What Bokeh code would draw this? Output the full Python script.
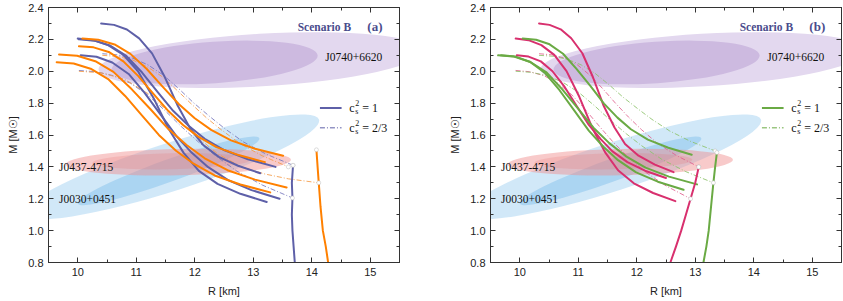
from bokeh.plotting import figure
from bokeh.layouts import row
from bokeh.models import Range1d, LinearAxis, FixedTicker, PrintfTickFormatter
from bokeh.core.properties import value
from bokeh.embed import file_html
from bokeh.resources import INLINE

# ---------------- data: panel (a) ----------------
PA1_R = [10.40, 10.62, 10.84, 11.05, 11.27, 11.49, 11.71, 11.92, 12.14, 12.41, 12.74, 13.12]
PA1_M = [2.300, 2.291, 2.262, 2.206, 2.112, 1.962, 1.783, 1.642, 1.539, 1.463, 1.407, 1.360]
PA2_R = [10.00, 10.26, 10.52, 10.78, 11.03, 11.29, 11.55, 11.81, 12.07, 12.39, 12.78, 13.23]
PA2_M = [2.205, 2.195, 2.164, 2.103, 2.000, 1.836, 1.641, 1.488, 1.375, 1.293, 1.231, 1.180]
PA3_R = [10.02, 10.29, 10.56, 10.83, 11.10, 11.36, 11.63, 11.90, 12.17, 12.51, 12.91, 13.38]
PA3_M = [2.200, 2.192, 2.160, 2.096, 1.992, 1.872, 1.752, 1.656, 1.576, 1.504, 1.448, 1.400]
PA4_R = [10.05, 10.32, 10.59, 10.87, 11.14, 11.41, 11.68, 11.95, 12.23, 12.57, 12.97, 13.45]
PA4_M = [2.100, 2.091, 2.055, 1.983, 1.866, 1.731, 1.596, 1.488, 1.398, 1.317, 1.254, 1.200]
OA1_R = [10.08, 10.35, 10.63, 10.90, 11.18, 11.45, 11.73, 12.00, 12.28, 12.62, 13.03, 13.51]
OA1_M = [2.205, 2.198, 2.168, 2.109, 2.014, 1.904, 1.793, 1.705, 1.632, 1.566, 1.514, 1.470]
OA2_R = [10.02, 10.27, 10.53, 10.78, 11.04, 11.29, 11.55, 11.80, 12.06, 12.37, 12.75, 13.20]
OA2_M = [2.157, 2.150, 2.121, 2.062, 1.968, 1.859, 1.750, 1.663, 1.590, 1.524, 1.474, 1.430]
OA3_R = [9.68, 9.99, 10.30, 10.61, 10.92, 11.24, 11.55, 11.86, 12.17, 12.56, 13.03, 13.57]
OA3_M = [2.105, 2.097, 2.063, 1.996, 1.888, 1.763, 1.637, 1.537, 1.454, 1.379, 1.320, 1.270]
OA4_R = [9.64, 9.93, 10.22, 10.52, 10.81, 11.10, 11.39, 11.68, 11.98, 12.34, 12.78, 13.29]
OA4_M = [2.057, 2.049, 2.016, 1.951, 1.845, 1.722, 1.599, 1.501, 1.420, 1.346, 1.289, 1.240]
PDA1_R = [10.42, 10.68, 10.94, 11.20, 11.46, 11.72, 11.98, 12.25, 12.51, 12.83, 13.22, 13.68]
PDA1_M = [2.110, 2.103, 2.082, 2.040, 1.977, 1.893, 1.802, 1.718, 1.641, 1.557, 1.480, 1.410]
PDA2_R = [10.02, 10.31, 10.60, 10.90, 11.19, 11.48, 11.77, 12.06, 12.36, 12.72, 13.16, 13.67]
PDA2_M = [2.005, 1.997, 1.973, 1.925, 1.853, 1.757, 1.653, 1.557, 1.469, 1.373, 1.285, 1.205]
ODA1_R = [10.02, 10.40, 10.80, 11.20, 11.60, 12.00, 12.40, 12.80, 13.20, 13.60, 14.12]
ODA1_M = [2.000, 1.990, 1.950, 1.860, 1.730, 1.600, 1.480, 1.400, 1.355, 1.325, 1.300]
ODA2_R = [10.42, 10.67, 10.93, 11.18, 11.44, 11.69, 11.95, 12.20, 12.46, 12.77, 13.15, 13.60]
ODA2_M = [2.100, 2.093, 2.072, 2.030, 1.967, 1.883, 1.792, 1.708, 1.631, 1.547, 1.470, 1.400]
HPA_R = [13.68, 13.66, 13.67, 13.66, 13.67, 13.69, 13.71]
HPA_M = [1.41, 1.30, 1.205, 1.10, 1.00, 0.90, 0.80]
HOA_R = [14.08, 14.10, 14.12, 14.15, 14.19, 14.24, 14.28]
HOA_M = [1.507, 1.40, 1.30, 1.15, 1.00, 0.90, 0.80]

# ---------------- data: panel (b) ----------------
MB1_R = [10.33, 10.51, 10.70, 10.88, 11.07, 11.25, 11.43, 11.62, 11.80, 12.03, 12.31, 12.63]
MB1_M = [2.300, 2.291, 2.263, 2.207, 2.113, 1.964, 1.787, 1.647, 1.544, 1.470, 1.414, 1.367]
MB2_R = [9.93, 10.15, 10.37, 10.59, 10.80, 11.02, 11.24, 11.46, 11.68, 11.95, 12.28, 12.66]
MB2_M = [2.205, 2.195, 2.164, 2.103, 2.001, 1.838, 1.644, 1.491, 1.379, 1.297, 1.236, 1.185]
MB3_R = [9.95, 10.15, 10.36, 10.56, 10.77, 10.97, 11.17, 11.38, 11.58, 11.84, 12.14, 12.50]
MB3_M = [2.100, 2.092, 2.062, 2.000, 1.900, 1.784, 1.669, 1.576, 1.499, 1.430, 1.376, 1.330]
GB1_R = [10.05, 10.28, 10.51, 10.74, 10.97, 11.21, 11.44, 11.67, 11.90, 12.19, 12.54, 12.94]
GB1_M = [2.205, 2.198, 2.169, 2.110, 2.015, 1.906, 1.797, 1.709, 1.636, 1.571, 1.520, 1.476]
GB2_R = [9.63, 9.90, 10.17, 10.45, 10.72, 10.99, 11.26, 11.53, 11.81, 12.15, 12.55, 13.03]
GB2_M = [2.100, 2.092, 2.060, 1.995, 1.889, 1.768, 1.646, 1.549, 1.468, 1.395, 1.339, 1.290]
GB3_R = [9.68, 9.93, 10.18, 10.43, 10.68, 10.93, 11.18, 11.43, 11.68, 11.99, 12.36, 12.80]
GB3_M = [2.100, 2.092, 2.058, 1.990, 1.881, 1.754, 1.627, 1.526, 1.442, 1.366, 1.307, 1.256]
MDB1_R = [10.33, 10.55, 10.77, 10.99, 11.20, 11.42, 11.64, 11.86, 12.08, 12.35, 12.68, 13.06]
MDB1_M = [2.110, 2.103, 2.082, 2.039, 1.975, 1.890, 1.798, 1.712, 1.634, 1.549, 1.471, 1.400]
GDB1_R = [10.33, 10.57, 10.81, 11.05, 11.29, 11.53, 11.77, 12.02, 12.26, 12.56, 12.92, 13.34]
GDB1_M = [2.100, 2.094, 2.076, 2.040, 1.986, 1.914, 1.836, 1.764, 1.698, 1.626, 1.560, 1.500]
MDB2_R = [9.93, 10.17, 10.41, 10.65, 10.89, 11.13, 11.37, 11.60, 11.84, 12.14, 12.50, 12.92]
MDB2_M = [2.005, 1.997, 1.973, 1.925, 1.852, 1.755, 1.651, 1.554, 1.466, 1.369, 1.281, 1.200]
GDB2_R = [9.93, 10.20, 10.47, 10.74, 11.01, 11.28, 11.55, 11.82, 12.09, 12.43, 12.84, 13.31]
GDB2_M = [2.000, 1.993, 1.972, 1.930, 1.867, 1.783, 1.692, 1.608, 1.531, 1.447, 1.370, 1.300]
HMB_R = [13.06, 13.00, 12.92, 12.84, 12.76, 12.67, 12.575]
HMB_M = [1.40, 1.30, 1.20, 1.10, 1.00, 0.90, 0.80]
HGB_R = [13.37, 13.34, 13.31, 13.27, 13.23, 13.19, 13.14]
HGB_M = [1.49, 1.40, 1.30, 1.15, 1.00, 0.90, 0.80]

# ---------------- observational regions ----------------
ELL_X = [13.13, 12.34, 11.60, 11.55, 11.72, 11.60]
ELL_Y = [2.070, 2.055, 1.400, 1.375, 1.430, 1.435]
ELL_W = [5.56, 3.53, 5.30, 3.30, 3.85, 2.70]
ELL_H = [0.33, 0.26, 0.30, 0.14, 0.165, 0.10]
ELL_ANGLE = [0.0586, 0.069, 0.31, 0.345, 0.021, 0.02]
ELL_COLOR = ["#e3d8ef", "#cdbae0", "#5aaee6", "#3d9ae0", "#f08a8a", "#e46a6a"]
ELL_ALPHA = [1.0, 1.0, 0.28, 0.25, 0.45, 0.2]

SOURCE_NAMES = ["J0740+6620", "J0437-4715", "J0030+0451"]
SOURCE_R = [14.23, 9.68, 9.68]
SOURCE_M = [2.09, 1.40, 1.20]

LEG_LINE_R = [14.14, 14.51]
LEG_Y = [1.77, 1.645]
LEG_TEXT_R = 14.64
LEG_VALUES = ["= 1", "= 2/3"]

X_RANGE = (9.5, 15.5)
Y_RANGE = (0.8, 2.4)
X_TICKS = [10, 11, 12, 13, 14, 15]
X_MINOR = [9.5, 10.5, 11.5, 12.5, 13.5, 14.5, 15.5]
Y_TICKS = [0.8, 1.0, 1.2, 1.4, 1.6, 1.8, 2.0, 2.2, 2.4]
Y_MINOR = [0.9, 1.1, 1.3, 1.5, 1.7, 1.9, 2.1, 2.3]

PURPLE = "#5e60a8"
ORANGE = "#ff8000"
MAGENTA = "#d8306e"
GREEN = "#6aaa44"
TITLE_COLOR = "#4a4c8c"

SERIF = value("Liberation Serif")


def make_panel(left_border, right_border, solids, dashes, hadronic, colors, tag):
    p = figure(frame_width=351, frame_height=255,
               x_range=Range1d(*X_RANGE), y_range=Range1d(*Y_RANGE),
               output_backend="svg", toolbar_location=None,
               min_border_left=left_border, min_border_right=right_border,
               min_border_top=7, min_border_bottom=0,
               outline_line_color="#333333")
    p.xgrid.visible = False
    p.ygrid.visible = False
    p.xaxis.ticker = FixedTicker(ticks=X_TICKS, minor_ticks=X_MINOR)
    p.yaxis.ticker = FixedTicker(ticks=Y_TICKS, minor_ticks=Y_MINOR)
    p.yaxis.formatter = PrintfTickFormatter(format="%.1f")
    p.xaxis.axis_label = "R [km]"
    p.yaxis.axis_label = "M [M\u2609]"
    top = LinearAxis(ticker=FixedTicker(ticks=X_TICKS, minor_ticks=X_MINOR))
    right = LinearAxis(ticker=FixedTicker(ticks=Y_TICKS, minor_ticks=Y_MINOR))
    p.add_layout(top, "above")
    p.add_layout(right, "right")
    for ax in [p.below[0], p.left[0], top, right]:
        ax.major_tick_in = 5
        ax.major_tick_out = 0
        ax.minor_tick_in = 3
        ax.minor_tick_out = 0
        ax.axis_line_color = "#333333"
        ax.major_tick_line_color = "#333333"
        ax.minor_tick_line_color = "#333333"
        ax.major_label_text_font = "Liberation Sans"
        ax.major_label_text_font_size = "11px"
        ax.major_label_text_color = "#222222"
        ax.major_label_standoff = 5
        ax.axis_label_text_font = "Liberation Sans"
        ax.axis_label_text_font_size = "11px"
        ax.axis_label_text_font_style = "normal"
        ax.axis_label_text_color = "#222222"
        ax.axis_label_standoff = 6
    for ax in [top, right]:
        ax.major_label_text_font_size = "1px"
        ax.major_label_text_color = None
        ax.major_label_standoff = 0

    # regions
    p.ellipse(x=ELL_X, y=ELL_Y, width=ELL_W, height=ELL_H, angle=ELL_ANGLE,
              fill_color=ELL_COLOR, fill_alpha=ELL_ALPHA, line_color=None)

    # source labels
    p.text(x=SOURCE_R, y=SOURCE_M, text=SOURCE_NAMES, text_font=SERIF,
           text_font_size="11.5px", text_baseline="middle", text_align="left",
           text_color="#111111")
    p.text(x=[13.76], y=[2.28], text=["Scenario B"], text_font=SERIF,
           text_font_size="11.5px", text_font_style="bold", text_baseline="middle",
           text_color=TITLE_COLOR)
    p.text(x=[14.95], y=[2.28], text=[tag], text_font=SERIF,
           text_font_size="13px", text_font_style="bold", text_baseline="middle",
           text_color=TITLE_COLOR)

    # curves
    for (r, m, c) in dashes:
        p.line(r, m, line_color=c, line_width=1, line_dash="5 2 1 2", line_alpha=0.85)
    for (r, m, c) in solids:
        p.line(r, m, line_color=c, line_width=2, line_join="round", line_cap="round")
    for (r, m, c) in hadronic:
        p.line(r, m, line_color=c, line_width=2, line_join="round")
    dot_r = [d[0][-1] for d in dashes] + [h[0][0] for h in hadronic]
    dot_m = [d[1][-1] for d in dashes] + [h[1][0] for h in hadronic]
    p.scatter(dot_r, dot_m, size=4, fill_color="white", line_color="#bbbbbb", line_width=0.5)

    # legend
    c1 = colors[0]
    p.line(LEG_LINE_R, [LEG_Y[0]] * 2, line_color=c1, line_width=2)
    p.line(LEG_LINE_R, [LEG_Y[1]] * 2, line_color=c1, line_width=1, line_dash="5 2 1 2")
    for yy, val in zip(LEG_Y, LEG_VALUES):
        p.text(x=[LEG_TEXT_R], y=[yy], text=["c"], text_font=SERIF, text_font_size="12px",
               text_baseline="middle", text_color="#111111")
        p.text(x=[LEG_TEXT_R], y=[yy], text=["2"], text_font=SERIF, text_font_size="8px",
               text_baseline="middle", x_offset=6, y_offset=-5, text_color="#111111")
        p.text(x=[LEG_TEXT_R], y=[yy], text=["s"], text_font=SERIF, text_font_size="8px",
               text_baseline="middle", x_offset=6, y_offset=4, text_color="#111111")
        p.text(x=[LEG_TEXT_R], y=[yy], text=[val], text_font=SERIF, text_font_size="12px",
               text_baseline="middle", x_offset=13, text_color="#111111")
    return p


solids_a = [(PA1_R, PA1_M, PURPLE), (PA2_R, PA2_M, PURPLE), (PA3_R, PA3_M, PURPLE),
            (PA4_R, PA4_M, PURPLE), (OA1_R, OA1_M, ORANGE), (OA2_R, OA2_M, ORANGE),
            (OA3_R, OA3_M, ORANGE), (OA4_R, OA4_M, ORANGE)]
dashes_a = [(PDA1_R, PDA1_M, "#7577bd"), (PDA2_R, PDA2_M, "#7577bd"),
            (ODA1_R, ODA1_M, "#f59a45"), (ODA2_R, ODA2_M, "#f59a45")]
had_a = [(HPA_R, HPA_M, PURPLE), (HOA_R, HOA_M, ORANGE)]

solids_b = [(MB1_R, MB1_M, MAGENTA), (MB2_R, MB2_M, MAGENTA), (MB3_R, MB3_M, MAGENTA),
            (GB1_R, GB1_M, GREEN), (GB2_R, GB2_M, GREEN), (GB3_R, GB3_M, GREEN)]
dashes_b = [(MDB1_R, MDB1_M, "#e0608e"), (MDB2_R, MDB2_M, "#e0608e"),
            (GDB1_R, GDB1_M, "#8cc26a"), (GDB2_R, GDB2_M, "#8cc26a")]
had_b = [(HMB_R, HMB_M, MAGENTA), (HGB_R, HGB_M, GREEN)]

pa = make_panel(48, 21, solids_a, dashes_a, had_a, [PURPLE, ORANGE], "(a)")
pb = make_panel(70, 2, solids_b, dashes_b, had_b, [GREEN, MAGENTA], "(b)")

layout = row(pa, pb)
open("out.html", "w").write(file_html(layout, INLINE))
